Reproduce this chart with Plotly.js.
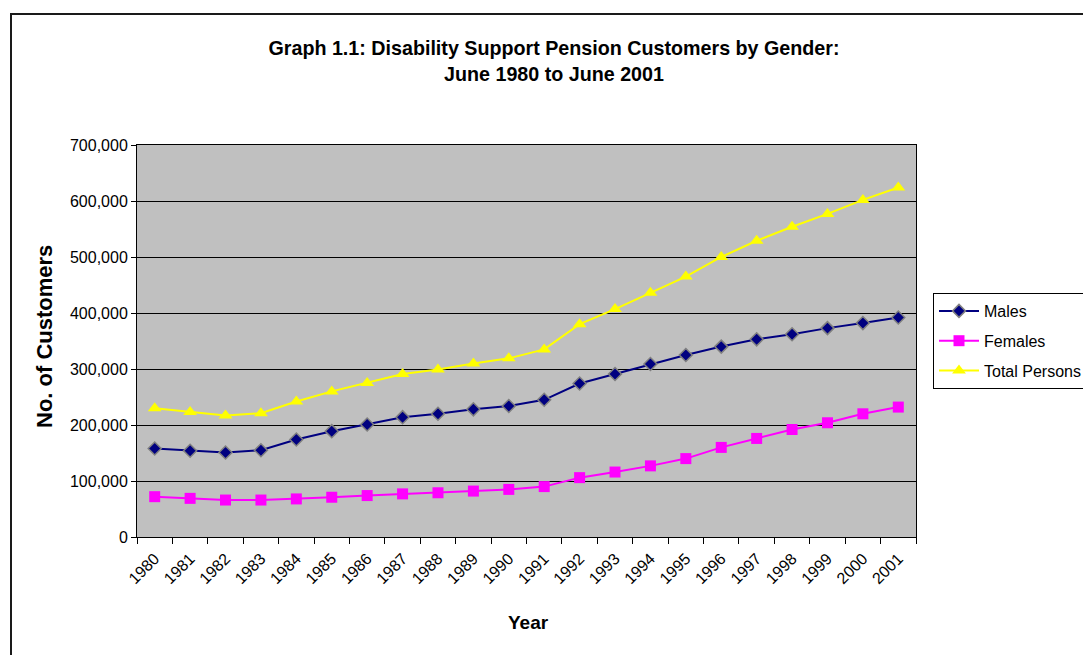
<!DOCTYPE html>
<html>
<head>
<meta charset="utf-8">
<script src="https://cdn.plot.ly/plotly-3.0.1.min.js"></script>
<style>
  html, body { margin: 0; padding: 0; background: #ffffff; }
  #chart { width: 1083px; height: 655px; }
</style>
</head>
<body>
<div id="chart"></div>
<script>
// Disability Support Pension customers at June of each year
const years = ["1980","1981","1982","1983","1984","1985","1986","1987","1988","1989","1990",
               "1991","1992","1993","1994","1995","1996","1997","1998","1999","2000","2001"];
const males = [158000,154000,151000,155000,174000,189000,201000,214000,220000,228000,234000,
               245000,274000,291000,309000,325000,340000,353000,362000,373000,382000,392000];
const females = [72000,69000,66000,66000,68000,71000,74000,77000,79000,82000,85000,
                 90000,106000,116000,127000,140000,160000,176000,192000,204000,220000,232000];
const totalPersons = [230000,223000,217000,221000,242000,260000,275000,291000,299000,310000,319000,
                      335000,380000,407000,436000,465000,500000,529000,554000,577000,602000,624000];

const FONT = "Liberation Sans, Arial, sans-serif";

const traces = [
  {
    name: "Males", x: years, y: males, type: "scatter", mode: "lines+markers",
    legendgroup: "m",
    line: { color: "#000080", width: 2 },
    marker: { symbol: "diamond", size: 10, color: "#000080", line: { color: "#808080", width: 1.5 } }
  },
  {
    name: "Females", x: years, y: females, type: "scatter", mode: "lines+markers",
    legendgroup: "f",
    line: { color: "#FF00FF", width: 2 },
    marker: { symbol: "square", size: 11, color: "#FF00FF" }
  },
  {
    name: "Total Persons", x: years, y: totalPersons, type: "scatter", mode: "lines+markers",
    legendgroup: "t",
    line: { color: "#FFFF00", width: 2 },
    marker: { symbol: "triangle-up", size: 12, color: "#FFFF00" }
  }
];

const L = 137, T = 145, W = 779, H = 392;
const px = v => (v - L) / W;
const py = v => (T + H - v) / H;

const layout = {
  width: 1083, height: 655,
  margin: { l: L, r: 1083 - L - W, t: T, b: 655 - T - H, autoexpand: false },
  paper_bgcolor: "#ffffff",
  plot_bgcolor: "#C0C0C0",
  font: { family: FONT, color: "#000000", size: 16 },
  showlegend: true,
  title: {
    text: "<b>Graph 1.1: Disability Support Pension Customers by Gender:<br>June 1980 to June 2001</b>",
    font: { family: FONT, size: 19.7, color: "#000000" },
    xref: "container", x: 554 / 1083, xanchor: "center",
    yref: "container", y: 1 - 55 / 655, yanchor: "top"
  },
  xaxis: {
    type: "category",
    range: [-0.5, years.length - 0.5],
    tickson: "boundaries",
    ticks: "outside", ticklen: 6, tickcolor: "#000000", tickwidth: 1,
    tickangle: -45,
    ticklabelstandoff: 5,
    tickfont: { family: FONT, size: 16, color: "#000000" },
    showline: true, linecolor: "#000000", linewidth: 1, mirror: true,
    showgrid: false, zeroline: false
  },
  yaxis: {
    range: [0, 700000],
    dtick: 100000,
    tickformat: ",d",
    ticks: "outside", ticklen: 5, tickcolor: "#000000",
    tickfont: { family: FONT, size: 16, color: "#000000" },
    showline: true, linecolor: "#000000", linewidth: 1, mirror: true,
    showgrid: true, gridcolor: "#000000", gridwidth: 1,
    zeroline: false
  },
  legend: {
    x: px(933), y: py(293), xanchor: "left", yanchor: "top",
    xref: "paper", yref: "paper",
    bgcolor: "#ffffff", bordercolor: "#000000", borderwidth: 1,
    font: { family: FONT, size: 16, color: "#000000" },
    traceorder: "grouped", tracegroupgap: 6,
    itemwidth: 40
  },
  annotations: [
    {
      text: "<b>No. of Customers</b>", textangle: -90,
      xref: "paper", yref: "paper", x: px(44), y: py(337),
      xanchor: "center", yanchor: "middle", showarrow: false,
      font: { family: FONT, size: 22, color: "#000000" }
    },
    {
      text: "<b>Year</b>",
      xref: "paper", yref: "paper", x: px(528), y: py(622),
      xanchor: "center", yanchor: "middle", showarrow: false,
      font: { family: FONT, size: 19, color: "#000000" }
    }
  ],
  shapes: [
    {
      type: "rect", xref: "paper", yref: "paper",
      x0: px(11), x1: px(1120), y0: py(14), y1: py(700),
      line: { color: "#1a1a1a", width: 2 }, fillcolor: "rgba(0,0,0,0)", layer: "below"
    }
  ]
};

Plotly.newPlot("chart", traces, layout, { displayModeBar: false, staticPlot: true });
</script>
</body>
</html>
